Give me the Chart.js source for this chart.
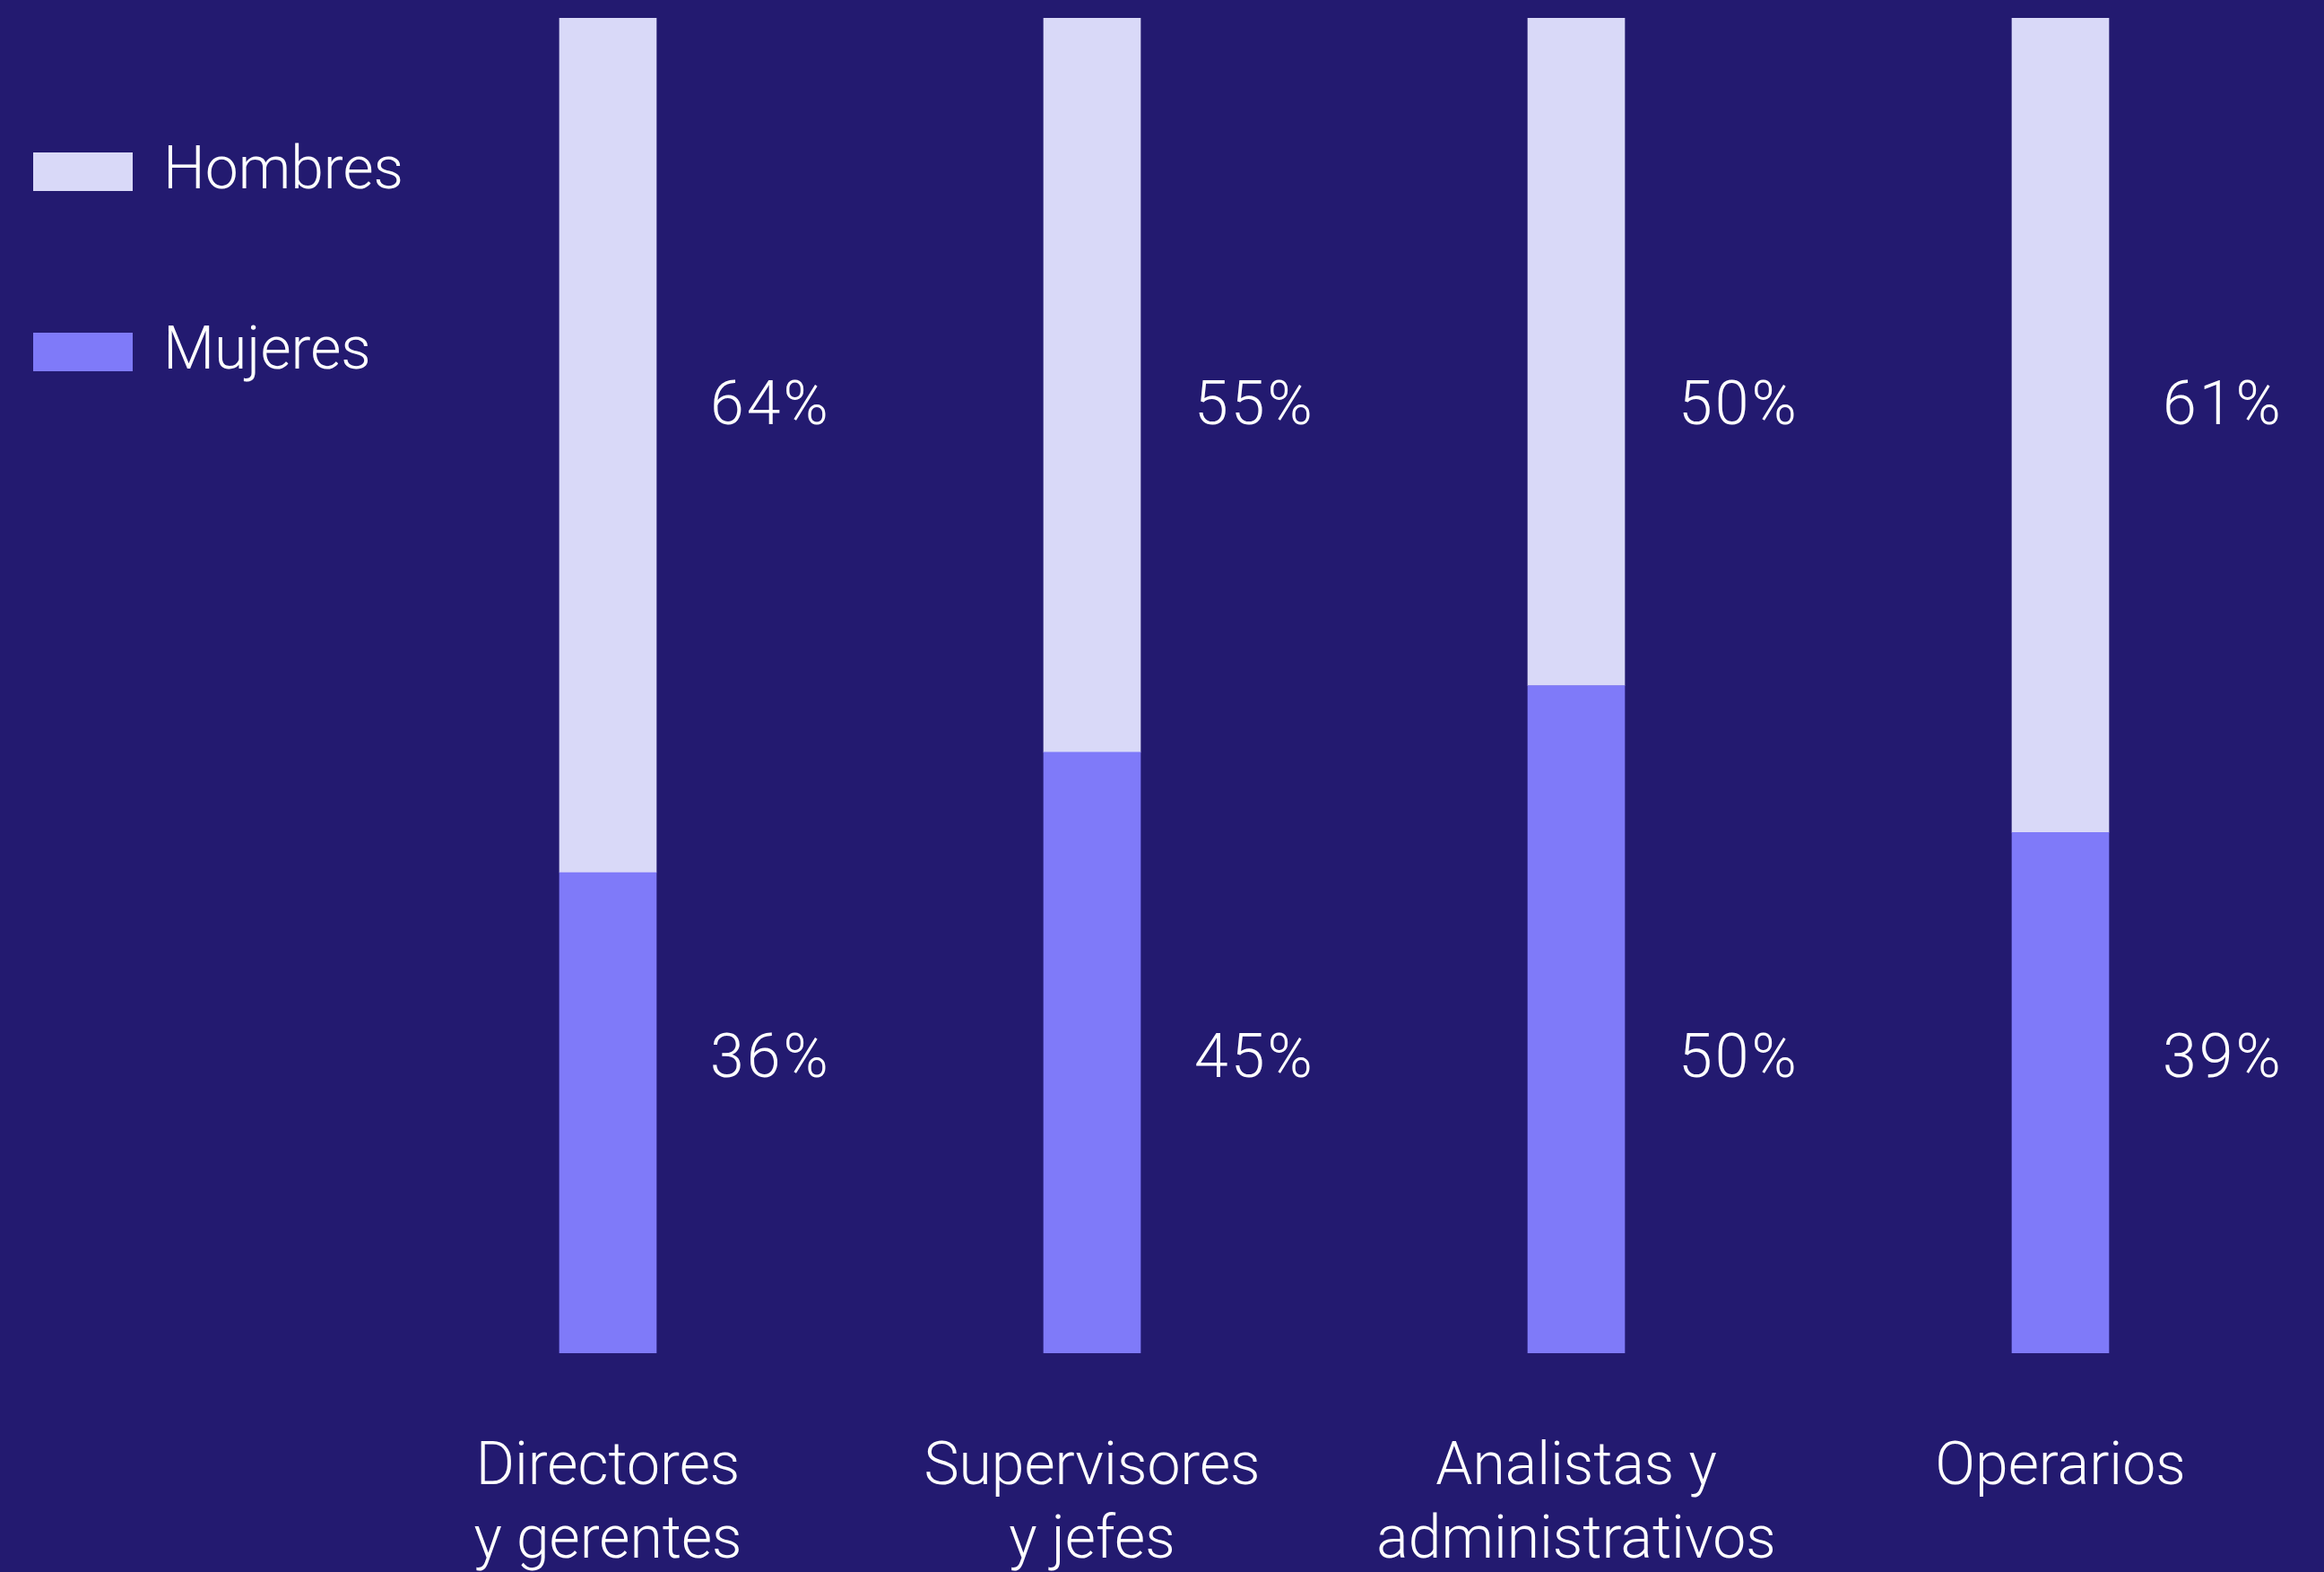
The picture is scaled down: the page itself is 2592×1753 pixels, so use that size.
<!DOCTYPE html>
<html lang="es">
<head>
<meta charset="utf-8">
<title>Hombres y mujeres por categoría</title>
<script src="https://cdn.jsdelivr.net/npm/chart.js@4.4.1/dist/chart.umd.min.js"></script>
<style>
  html, body { margin: 0; padding: 0; background: #231a70; }
  canvas { display: block; }
</style>
</head>
<body>
<canvas id="chart" width="2592" height="1753"></canvas>
<script>
const categories = [
    ["Directores", "y gerentes"],
    ["Supervisores", "y jefes"],
    ["Analistas y", "administrativos"],
    ["Operarios"]
];
const hombres = [64, 55, 50, 61];
const mujeres = [36, 45, 50, 39];
const seriesNames = ["Hombres", "Mujeres"];

const LIGHT = "#d9d9f8";
const VIOLET = "#7f7af9";
const FONT = "Roboto, 'Liberation Sans', Arial, sans-serif";
const WEIGHT = 300;

// the percentages sit at a fixed height next to each bar
const labelLevels = { Hombres: 70.7, Mujeres: 21.8 };

const valueLabels = {
    id: 'valueLabels',
    afterDatasetsDraw(chart) {
        const ctx = chart.ctx;
        const yScale = chart.scales.y;
        ctx.save();
        ctx.fillStyle = '#ffffff';
        ctx.font = WEIGHT + ' 68px ' + FONT;
        ctx.letterSpacing = '3px';
        ctx.textAlign = 'left';
        ctx.textBaseline = 'middle';
        chart.data.datasets.forEach((ds, i) => {
            chart.getDatasetMeta(i).data.forEach((bar, j) => {
                const x = bar.x + bar.width / 2 + 60;
                ctx.fillText(ds.data[j] + '%', x, yScale.getPixelForValue(labelLevels[ds.label]));
            });
        });
        ctx.restore();
    }
};

// legend in the top-left corner, Hombres first
const legendBoxes = {
    id: 'legendBoxes',
    afterDraw(chart) {
        const ctx = chart.ctx;
        ctx.save();
        ctx.font = WEIGHT + ' 66px ' + FONT;
        ctx.textAlign = 'left';
        ctx.textBaseline = 'alphabetic';
        seriesNames.forEach((name, i) => {
            const ds = chart.data.datasets.find(d => d.label === name);
            const top = 170 + i * 201;
            ctx.fillStyle = ds.backgroundColor;
            ctx.fillRect(37, top, 111, 43);
            ctx.fillStyle = '#ffffff';
            ctx.fillText(name, 182, top + 40);
        });
        ctx.restore();
    }
};

new Chart(document.getElementById('chart'), {
    type: 'bar',
    data: {
        labels: categories,
        datasets: [
            { label: 'Mujeres', data: mujeres, backgroundColor: VIOLET },
            { label: 'Hombres', data: hombres, backgroundColor: LIGHT }
        ]
    },
    options: {
        responsive: false,
        animation: false,
        devicePixelRatio: 1,
        layout: { padding: { left: 408, right: 24, top: 20, bottom: 0 } },
        datasets: { bar: { barThickness: 108 } },
        plugins: {
            legend: { display: false },
            tooltip: { enabled: false }
        },
        scales: {
            x: {
                stacked: true,
                grid: { display: false, drawTicks: false },
                border: { display: false },
                ticks: {
                    color: '#ffffff',
                    font: { family: FONT, size: 66, weight: WEIGHT, lineHeight: 82 / 66 },
                    padding: 88,
                    maxRotation: 0,
                    autoSkip: false
                },
                // two label lines plus the gap under the bars
                afterFit(scale) { scale.height = 80 + 2 * 82; }
            },
            y: { stacked: true, display: false, min: 0, max: 100 }
        }
    },
    plugins: [valueLabels, legendBoxes]
});
</script>
</body>
</html>
